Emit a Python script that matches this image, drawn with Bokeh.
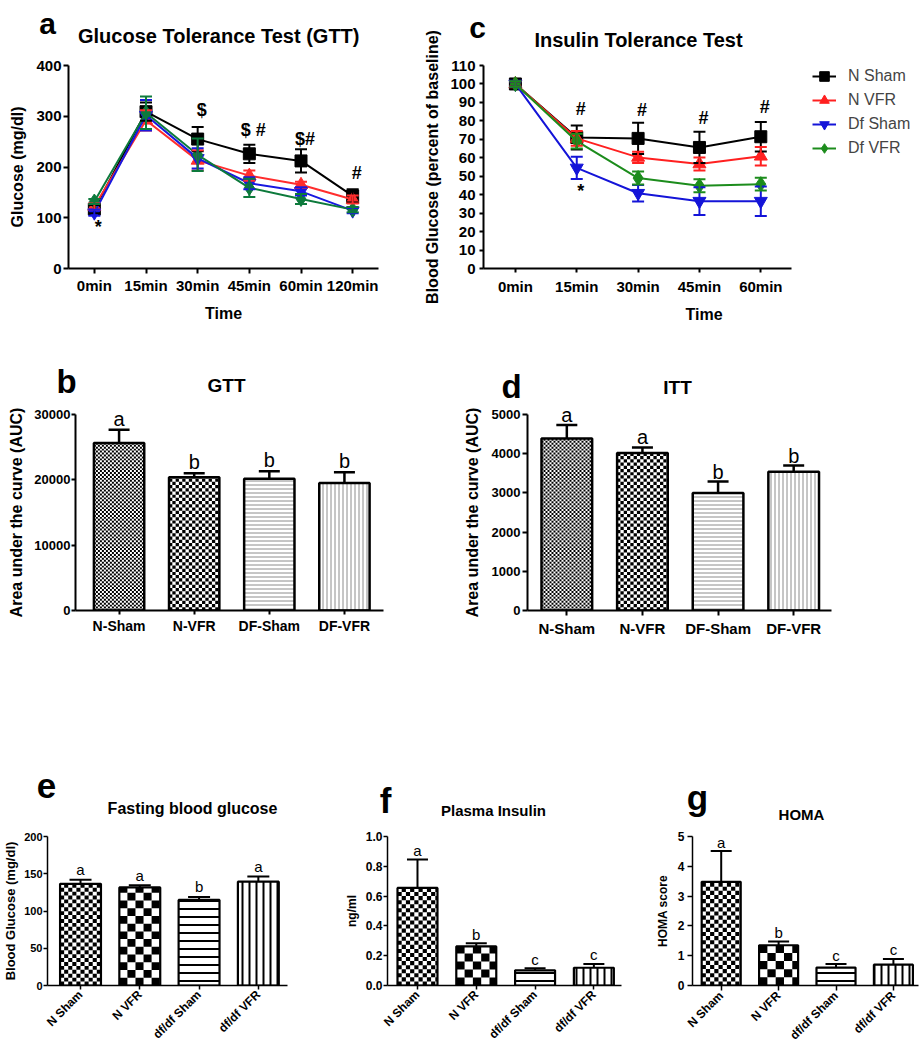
import math
from bokeh.plotting import figure
from bokeh.models import (Range1d, FixedTicker, Whisker, TeeHead, ColumnDataSource,
                          Legend, LegendItem, NumeralTickFormatter)
from bokeh.layouts import column, row
from bokeh.embed import file_html
from bokeh.resources import INLINE
from bokeh.core.properties import value

FONT = "Liberation Sans"

# ---------------- data ----------------
series_names = ["N Sham", "N VFR", "Df Sham", "Df VFR"]

gtt_times = ["0min", "15min", "30min", "45min", "60min", "120min"]
gtt_n_sham = [117, 309, 255, 226, 212, 143]
gtt_n_sham_err = [8, 18, 24, 18, 23, 13]
gtt_n_vfr = [122, 292, 213, 183, 165, 136]
gtt_n_vfr_err = [6, 20, 20, 10, 6, 8]
gtt_df_sham = [110, 302, 217, 168, 152, 114]
gtt_df_sham_err = [6, 30, 20, 12, 8, 5]
gtt_df_vfr = [132, 307, 224, 159, 137, 116]
gtt_df_vfr_err = [5, 32, 32, 18, 10, 5]
gtt_sig_pos = [0, 2, 3, 4, 5]
gtt_sig_y = [82, 313, 273, 255, 188]
gtt_sig_text = ["*", "$", "$ #", "$#", "#"]

itt_times = ["0min", "15min", "30min", "45min", "60min"]
itt_n_sham = [100, 71, 70.5, 65.6, 71.4]
itt_n_sham_err = [1.5, 6.5, 8.5, 8.5, 8]
itt_n_vfr = [100, 70.5, 60.2, 56.6, 60.8]
itt_n_vfr_err = [1.5, 4, 3, 3.5, 5]
itt_df_sham = [100, 54.5, 40.8, 36.5, 36.5]
itt_df_sham_err = [1.5, 6, 4.5, 7.5, 8]
itt_df_vfr = [100, 69, 49, 44.8, 45.7]
itt_df_vfr_err = [1.5, 4, 3.5, 3.5, 3.5]
itt_sig_pos = [1, 2, 3, 4, 1]
itt_sig_y = [86.3, 85.7, 81.4, 87.7, 42.2]
itt_sig_text = ["#", "#", "#", "#", "*"]

auc_groups = ["N-Sham", "N-VFR", "DF-Sham", "DF-VFR"]
gtt_auc = [25650, 20400, 20150, 19500]
gtt_auc_err = [2000, 600, 1150, 1650]
gtt_auc_letters = ["a", "b", "b", "b"]
itt_auc = [4385, 4020, 2998, 3538]
itt_auc_err = [350, 140, 290, 160]
itt_auc_letters = ["a", "a", "b", "b"]

groups = ["N Sham", "N VFR", "df/df Sham", "df/df VFR"]
fbg = [136.5, 131.6, 114.8, 139.3]
fbg_err = [5.3, 2.8, 4.1, 7.0]
fbg_letters = ["a", "a", "b", "a"]
insulin = [0.655, 0.262, 0.102, 0.119]
insulin_err = [0.19, 0.021, 0.013, 0.026]
insulin_letters = ["a", "b", "c", "c"]
homa = [3.48, 1.35, 0.60, 0.70]
homa_err = [1.03, 0.13, 0.12, 0.19]
homa_letters = ["a", "b", "c", "c"]

# ---------------- styles ----------------
MARKERS = ["square", "triangle", "inverted_triangle", "diamond"]
MSIZES = [12, 13, 13, 15]
COLORS_A = ["#000000", "#ff2d2d", "#1818e0", "#0d7a3c"]
COLORS_C = ["#000000", "#ff2020", "#1414d8", "#1c8c1c"]

# fill styles: ("checker", square_px) or (hatch_pattern, color, spacing, weight)
PATS_BD = [("checker", 2.0), ("checker", 3.3),
           ("horizontal_line", "#8c8c8c", 4, 1), ("vertical_line", "#8c8c8c", 4, 1)]
PATS_EFG = [("checker", 4.2), ("checker", 8.3),
            ("horizontal_line", "black", 8, 2), ("vertical_line", "black", 7, 2)]


class Panel:
    def __init__(self, box, frame, xr, yr):
        x0, y0, x1, y1 = box
        fl, ft, fr, fb = frame
        self.frame = frame
        self.xr, self.yr = xr, yr
        self.xs = (fr - fl) / (xr[1] - xr[0])
        self.ys = (fb - ft) / (yr[1] - yr[0])
        p = figure(width=x1 - x0, height=y1 - y0,
                   x_range=Range1d(*xr), y_range=Range1d(*yr),
                   min_border_left=fl - x0, min_border_right=x1 - fr,
                   min_border_top=ft - y0, min_border_bottom=y1 - fb,
                   output_backend="svg", toolbar_location=None, tools="")
        p.xgrid.visible = False
        p.ygrid.visible = False
        p.outline_line_color = None
        self.p = p

    def text(self, x, y, text, size, bold=True, align="center", baseline="alphabetic"):
        fl, ft, fr, fb = self.frame
        self.p.text(x=[self.xr[0]], y=[self.yr[0]], text=[text],
                    x_offset=x - fl, y_offset=y - fb,
                    text_font=value(FONT), text_font_size=f"{size}px",
                    text_font_style="bold" if bold else "normal",
                    text_align=align, text_baseline=baseline, text_color="black",
                    level="overlay")


def style_axes(P, xlabels, yticks, tick_fs, lab_fs, lw, tick_out,
               x_std, y_std, xl_std, yl_std, xlabel=None, ylabel=None):
    p = P.p
    p.xaxis.ticker = FixedTicker(ticks=list(range(len(xlabels))))
    p.xaxis.major_label_overrides = {i: s for i, s in enumerate(xlabels)}
    p.yaxis.ticker = FixedTicker(ticks=yticks)
    for ax in (p.xaxis[0], p.yaxis[0]):
        ax.axis_line_width = lw
        ax.axis_line_color = "black"
        ax.major_tick_line_width = lw
        ax.major_tick_line_color = "black"
        ax.major_tick_in = 0
        ax.major_tick_out = tick_out
        ax.minor_tick_line_color = None
        ax.major_label_text_font = FONT
        ax.major_label_text_font_style = "bold"
        ax.major_label_text_font_size = f"{tick_fs}px"
        ax.major_label_text_color = "black"
        ax.axis_label_text_font = FONT
        ax.axis_label_text_font_style = "bold"
        ax.axis_label_text_font_size = f"{lab_fs}px"
        ax.axis_label_text_color = "black"
    p.xaxis.major_label_standoff = x_std
    p.yaxis.major_label_standoff = y_std
    p.xaxis.axis_label_standoff = xl_std
    p.yaxis.axis_label_standoff = yl_std
    if xlabel:
        p.xaxis.axis_label = xlabel
    if ylabel:
        p.yaxis.axis_label = ylabel


def line_panel(P, series, errs, colors, cap):
    p = P.p
    out = []
    for vals, err, col, mk, sz in zip(series, errs, colors, MARKERS, MSIZES):
        idx = list(range(len(vals)))
        src = ColumnDataSource(dict(x=idx, y=vals,
                                    lo=[v - e for v, e in zip(vals, err)],
                                    hi=[v + e for v, e in zip(vals, err)]))
        p.add_layout(Whisker(source=src, base="x", lower="lo", upper="hi", dimension="height",
                             line_color=col, line_width=2, level="glyph",
                             upper_head=TeeHead(size=cap, line_color=col, line_width=2),
                             lower_head=TeeHead(size=cap, line_color=col, line_width=2)))
        lr = p.line("x", "y", source=src, line_color=col, line_width=2)
        sr = p.scatter("x", "y", source=src, marker=mk, size=sz, fill_color=col, line_color=col)
        out.append((lr, sr))
    return out


def sig_labels(P, pos, ys, texts, size):
    P.p.text(x=pos, y=ys, text=texts, x_offset=4,
             text_align="center", text_baseline="middle",
             text_font=value(FONT), text_font_size=f"{size}px",
             text_font_style="bold", text_color="black", level="overlay")


def checker(P, xc, top, bw, sq_px):
    dx = sq_px / P.xs
    dy = sq_px / P.ys
    x0, x1 = xc - bw / 2, xc + bw / 2
    nx = int(math.ceil(bw / dx))
    ny = int(math.ceil(top / dy))
    L, R, B, T = [], [], [], []
    for i in range(nx):
        for j in range(ny):
            if (i + j) % 2 == 0:
                l = x0 + i * dx
                b = j * dy
                L.append(l)
                R.append(min(l + dx, x1))
                B.append(b)
                T.append(min(b + dy, top))
    P.p.quad(left=L, right=R, bottom=B, top=T, fill_color="black", line_color=None)


def bar_panel(P, vals, errs, letters, pats, bw, lw, cap, err_lw, letter_fs, letter_off):
    p = P.p
    idx = list(range(len(vals)))
    wsrc = ColumnDataSource(dict(x=idx, lo=vals, hi=[v + e for v, e in zip(vals, errs)]))
    p.add_layout(Whisker(source=wsrc, base="x", lower="lo", upper="hi", dimension="height",
                         line_color="black", line_width=err_lw, lower_head=None,
                         upper_head=TeeHead(size=cap, line_color="black", line_width=err_lw)))
    for i in idx:
        pat = pats[i]
        if pat[0] == "checker":
            p.vbar(x=[idx[i]], top=[vals[i]], bottom=0, width=bw,
                   fill_color="white", line_color=None)
            checker(P, idx[i], vals[i], bw, pat[1])
        else:
            _, col, sc, wt = pat
            p.vbar(x=[idx[i]], top=[vals[i]], bottom=0, width=bw,
                   fill_color="white", line_color=None,
                   hatch_pattern=pat[0], hatch_color=col, hatch_scale=sc, hatch_weight=wt)
        p.vbar(x=[idx[i]], top=[vals[i]], bottom=0, width=bw,
               fill_color=None, line_color="black", line_width=lw)
    p.text(x=idx, y=[v + e for v, e in zip(vals, errs)], text=letters, y_offset=-letter_off,
           text_align="center", text_baseline="alphabetic",
           text_font=value(FONT), text_font_size=f"{letter_fs}px",
           text_color="black", level="overlay")


# ---------------- panel a ----------------
A = Panel((0, 0, 420, 330), (68, 65, 378, 272), (-0.5, 5.5), (0, 400))
style_axes(A, gtt_times, [0, 100, 200, 300, 400], 15, 16, 2, 5, 3, 2, 8, 7,
           xlabel="Time", ylabel="Glucose (mg/dl)")
line_panel(A, [gtt_n_sham, gtt_n_vfr, gtt_df_sham, gtt_df_vfr],
           [gtt_n_sham_err, gtt_n_vfr_err, gtt_df_sham_err, gtt_df_vfr_err], COLORS_A, 12)
sig_labels(A, gtt_sig_pos, gtt_sig_y, gtt_sig_text, 18)
A.text(47, 27, "a", 30)
A.text(221, 39, "Glucose Tolerance  Test (GTT)", 20)

# ---------------- panel c ----------------
C = Panel((420, 0, 924, 330), (483, 64, 924, 268), (-0.52, -0.52 + 441 / 61.35), (0, 110))
style_axes(C, itt_times, list(range(0, 111, 10)), 15, 16, 2, 4, 5, 4, 8, 6,
           xlabel="Time", ylabel="Blood Glucose (percent of baseline)")
C.p.xaxis.bounds = (-0.52, 4.5)
rc = line_panel(C, [itt_n_sham, itt_n_vfr, itt_df_sham, itt_df_vfr],
                [itt_n_sham_err, itt_n_vfr_err, itt_df_sham_err, itt_df_vfr_err], COLORS_C, 12)
sig_labels(C, itt_sig_pos, itt_sig_y, itt_sig_text, 18)
C.text(477, 27, "c", 30)
C.text(638, 39, "Insulin Tolerance Test", 20)
legend = Legend(items=[LegendItem(label=n, renderers=[lr, sr]) for n, (lr, sr) in zip(series_names, rc)],
                location=(329, 108), orientation="vertical",
                label_text_font=FONT, label_text_font_size="16px",
                glyph_width=24, glyph_height=24, label_height=20, label_standoff=12,
                spacing=-1, padding=0, margin=0, border_line_color=None,
                background_fill_alpha=0)
C.p.add_layout(legend)

# ---------------- panel b ----------------
B = Panel((0, 330, 420, 680), (75, 414, 383, 615), (-0.58, 3.52), (0, 30000))
style_axes(B, auc_groups, [0, 10000, 20000, 30000], 13, 16, 2, 4, 3, 1, 8, 6,
           ylabel="Area under the curve (AUC)")
B.p.xaxis.major_label_text_font_size = "14px"
bar_panel(B, gtt_auc, gtt_auc_err, gtt_auc_letters, PATS_BD, 0.67, 2.5, 21, 2.5, 20, 11)
B.text(66, 386, "b", 33)
B.text(226, 390, "GTT", 19)

# ---------------- panel d ----------------
D = Panel((420, 330, 924, 680), (527, 409, 831, 610), (-0.52, 3.5), (0, 5000))
style_axes(D, auc_groups, list(range(0, 5001, 1000)), 13, 16, 2, 5, 4, 2, 8, 8,
           ylabel="Area under the curve (AUC)")
D.p.xaxis.major_label_text_font_size = "15px"
bar_panel(D, itt_auc, itt_auc_err, itt_auc_letters, PATS_BD, 0.67, 2.5, 21, 2.5, 20, 10)
D.text(511, 386, "d", 33)
D.text(677, 387, "ITT", 19)

# ---------------- panel e ----------------
E = Panel((0, 680, 320, 1050), (40, 827, 287, 987), (-0.557, 3.492), (0, 200))
style_axes(E, groups, [0, 50, 100, 150, 200], 11, 13, 1.5, 4, 3, 1, 5, 3,
           ylabel="Blood Glucose (mg/dl)")
E.p.xaxis.major_label_orientation = math.pi / 4
E.p.xaxis.major_label_text_font_size = "12px"
bar_panel(E, fbg, fbg_err, fbg_letters, PATS_EFG, 0.69, 2.2, 22, 2, 15, 10)
E.text(39, 787, "e", 35)
E.text(185, 810, "Fasting blood glucose", 16)

# ---------------- panel f ----------------
F = Panel((320, 680, 625, 1050), (387, 833, 621, 987), (-0.51, 3.47), (0, 1.0))
style_axes(F, groups, [0, 0.2, 0.4, 0.6, 0.8, 1.0], 12, 12, 1.5, 4, 3, 1, 5, 4,
           ylabel="ng/ml")
F.p.yaxis.formatter = NumeralTickFormatter(format="0.0")
F.p.xaxis.major_label_orientation = math.pi / 4
bar_panel(F, insulin, insulin_err, insulin_letters, PATS_EFG, 0.68, 2.2, 21, 2, 15, 9)
F.text(385, 802, "f", 35)
F.text(493, 812, "Plasma Insulin", 15)

# ---------------- panel g ----------------
G = Panel((625, 680, 924, 1050), (692, 836, 918, 988), (-0.5, 3.437), (0, 5))
style_axes(G, groups, [0, 1, 2, 3, 4, 5], 12, 12, 1.5, 5, 3, 3, 5, 5,
           ylabel="HOMA score")
G.p.xaxis.major_label_orientation = math.pi / 4
bar_panel(G, homa, homa_err, homa_letters, PATS_EFG, 0.68, 2.2, 21, 2, 15, 9)
G.text(697, 800, "g", 35)
G.text(801, 817, "HOMA", 15)

layout = column(row(A.p, C.p), row(B.p, D.p), row(E.p, F.p, G.p))
open("out.html", "w").write(file_html(layout, INLINE))
